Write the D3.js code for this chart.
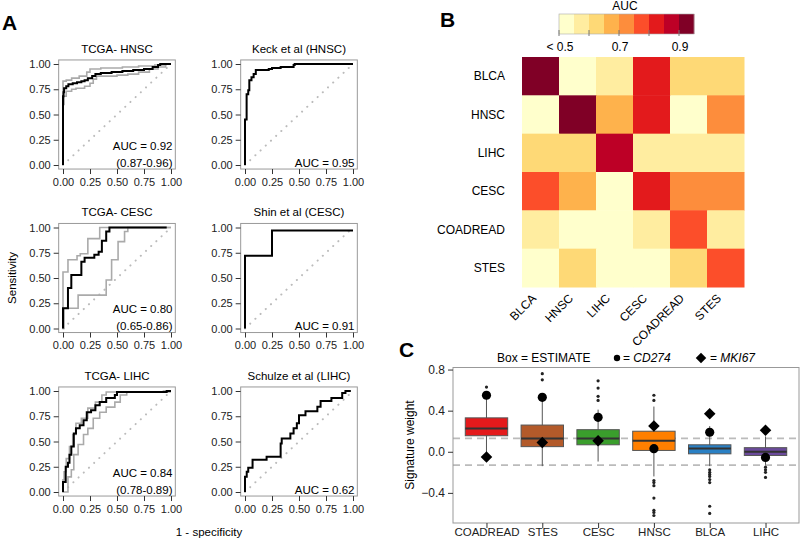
<!DOCTYPE html>
<html>
<head>
<meta charset="utf-8">
<script src="https://d3js.org/d3.v7.min.js"></script>
<style>
  body { margin: 0; background: #fff; }
  svg { font-family: 'Liberation Sans', Arial, sans-serif; }
</style>
</head>
<body>
<div id="chart"></div>
<script>
// ---------- panel A data: ROC steps as [1 - specificity, sensitivity]
let tcgaHnscRoc = [[0, 0], [0, 0.68], [0.005, 0.72], [0.01, 0.76], [0.03, 0.78], [0.05, 0.8], [0.09, 0.81], [0.13, 0.82], [0.17, 0.83], [0.2, 0.84], [0.23, 0.86], [0.27, 0.88], [0.3, 0.9], [0.35, 0.91], [0.45, 0.92], [0.55, 0.93], [0.65, 0.94], [0.75, 0.95], [0.83, 0.97], [0.88, 0.99], [0.9, 1], [1, 1]]
let tcgaHnscHigh = [[0, 0], [0, 0.83], [0.03, 0.84], [0.08, 0.86], [0.15, 0.88], [0.22, 0.92], [0.25, 0.95], [0.35, 0.96], [0.55, 0.97], [0.7, 0.98], [0.85, 0.99], [0.95, 1], [1, 1]]
let tcgaHnscLow = [[0, 0], [0, 0.6], [0.01, 0.68], [0.03, 0.73], [0.08, 0.75], [0.12, 0.76], [0.2, 0.78], [0.25, 0.81], [0.28, 0.85], [0.31, 0.88], [0.5, 0.89], [0.6, 0.9], [0.7, 0.92], [0.8, 0.95], [0.88, 0.97], [0.95, 1], [1, 1]]

let keckRoc = [[0, 0], [0, 0.45], [0.015, 0.7], [0.03, 0.74], [0.04, 0.84], [0.06, 0.87], [0.08, 0.9], [0.1, 0.94], [0.22, 0.95], [0.25, 0.96], [0.33, 0.97], [0.45, 0.99], [0.46, 1], [1, 1]]

let tcgaCescRoc = [[0, 0], [0, 0.2], [0.046, 0.4], [0.077, 0.53], [0.17, 0.66], [0.2, 0.7], [0.29, 0.73], [0.33, 0.76], [0.36, 0.87], [0.4, 0.96], [0.43, 1], [0.96, 1]]
let tcgaCescHigh = [[0, 0], [0, 0.56], [0.046, 0.68], [0.13, 0.72], [0.16, 0.74], [0.23, 0.89], [0.34, 1], [1, 1]]
let tcgaCescLow = [[0, 0], [0.01, 0.2], [0.14, 0.33], [0.4, 0.48], [0.45, 0.68], [0.51, 0.86], [0.57, 0.96], [0.6, 1], [1, 1]]

let shinRoc = [[0, 0], [0, 0.72], [0.25, 0.97], [1, 0.97]]

let tcgaLihcRoc = [[0, 0], [0, 0.1], [0.025, 0.25], [0.046, 0.29], [0.06, 0.37], [0.077, 0.45], [0.1, 0.58], [0.12, 0.63], [0.155, 0.66], [0.19, 0.71], [0.22, 0.79], [0.26, 0.81], [0.3, 0.86], [0.34, 0.89], [0.4, 0.93], [0.48, 0.96], [0.5, 0.99], [0.96, 1], [1, 1]]
let tcgaLihcHigh = [[0, 0], [0, 0.12], [0.01, 0.2], [0.03, 0.33], [0.06, 0.45], [0.09, 0.57], [0.12, 0.68], [0.17, 0.73], [0.23, 0.83], [0.3, 0.89], [0.36, 0.96], [0.4, 0.99], [0.93, 1], [1, 1]]
let tcgaLihcLow = [[0, 0], [0.046, 0.15], [0.077, 0.22], [0.1, 0.37], [0.14, 0.47], [0.19, 0.57], [0.23, 0.63], [0.28, 0.73], [0.34, 0.79], [0.4, 0.84], [0.48, 0.89], [0.53, 0.96], [0.59, 0.99], [1, 0.99]]

let schulzeRoc = [[0, 0], [0, 0.15], [0.016, 0.2], [0.03, 0.24], [0.07, 0.32], [0.2, 0.35], [0.33, 0.48], [0.34, 0.53], [0.42, 0.58], [0.45, 0.63], [0.48, 0.68], [0.5, 0.76], [0.56, 0.8], [0.67, 0.845], [0.7, 0.9], [0.8, 0.93], [0.9, 0.98], [0.93, 1], [0.98, 1]]

let rocTitles = ['TCGA- HNSC', 'Keck et al (HNSC)', 'TCGA- CESC', 'Shin et al (CESC)', 'TCGA- LIHC', 'Schulze et al (LIHC)']
let rocAuc = ['AUC = 0.92', 'AUC = 0.95', 'AUC = 0.80', 'AUC = 0.91', 'AUC = 0.84', 'AUC = 0.62']
let rocAucCi = ['(0.87-0.96)', null, '(0.65-0.86)', null, '(0.78-0.89)', null]
let rocTicks = [0, 0.25, 0.5, 0.75, 1]

// ---------- panel B data
let heatCancers = ['BLCA', 'HNSC', 'LIHC', 'CESC', 'COADREAD', 'STES']
// rows = heatCancers, columns = heatCancers
let heatAuc = [
  [0.93, 0.48, 0.57, 0.82, 0.62, 0.62],
  [0.48, 0.93, 0.67, 0.82, 0.48, 0.72],
  [0.62, 0.62, 0.87, 0.57, 0.57, 0.57],
  [0.77, 0.67, 0.48, 0.82, 0.72, 0.72],
  [0.57, 0.48, 0.48, 0.57, 0.77, 0.57],
  [0.48, 0.62, 0.48, 0.48, 0.62, 0.77]
]
let aucBreaks = [0.55, 0.6, 0.65, 0.7, 0.75, 0.8, 0.85, 0.9]
let aucLegendTicks = [0.5, 0.6, 0.7, 0.8, 0.9]
let aucLegendLabels = { 0.5: '< 0.5', 0.7: '0.7', 0.9: '0.9' }

// ---------- panel C data
let boxCancers = ['COADREAD', 'STES', 'CESC', 'HNSC', 'BLCA', 'LIHC']
let boxColors = ['#e41a1c', '#b35a2a', '#3a9e2c', '#ff7f00', '#2a80c4', '#6b4a9c']
let boxQ1 = [0.156, 0.05, 0.068, 0.013, -0.02, -0.036]
let boxMedian = [0.227, 0.13, 0.13, 0.107, 0.032, 0.0]
let boxQ3 = [0.33, 0.26, 0.215, 0.2, 0.068, 0.04]
let whiskerLow = [-0.02, -0.14, -0.095, -0.24, -0.14, -0.127]
let whiskerHigh = [0.57, 0.55, 0.41, 0.44, 0.25, 0.15]
let boxOutliers = [
  [0.63],
  [0.7, 0.76],
  [0.5, 0.54, 0.62, 0.69],
  [0.5, 0.55, -0.28, -0.3, -0.33, -0.45, -0.57, -0.59, -0.62],
  [-0.176, -0.2, -0.22, -0.24, -0.27, -0.3, -0.53, -0.6],
  [-0.15, -0.175, -0.2, -0.25]
]
let cd274Weight = [0.55, 0.53, 0.335, 0.03, 0.19, -0.055]
let mki67Weight = [-0.05, 0.09, 0.107, 0.25, 0.37, 0.21]
let refLines = [0.13, -0.13]
let weightTicks = [0.8, 0.4, 0, -0.4]

let svg = d3
  .select('#chart')
  .append('svg')
  .attr('width', 800)
  .attr('height', 540)

// panel letters
let letters = [['A', 2, 30], ['B', 440, 27], ['C', 399, 357]]
svg
  .selectAll('.panel-letter')
  .data(letters)
  .enter()
  .append('text')
  .attr('class', 'panel-letter')
  .attr('x', d => d[1])
  .attr('y', d => d[2])
  .attr('font-size', 21)
  .attr('font-weight', 'bold')
  .text(d => d[0])

// ================= panel A =================
let rocPanels = [
  { roc: tcgaHnscRoc, ci: [tcgaHnscHigh, tcgaHnscLow] },
  { roc: keckRoc, ci: [] },
  { roc: tcgaCescRoc, ci: [tcgaCescHigh, tcgaCescLow] },
  { roc: shinRoc, ci: [] },
  { roc: tcgaLihcRoc, ci: [tcgaLihcHigh, tcgaLihcLow] },
  { roc: schulzeRoc, ci: [] }
]
let colLeft = [63, 245]
let rowTop = [64, 227.5, 391]
let rocW = 108
let rocH = 101

rocPanels.forEach((p, i) => {
  let left = colLeft[i % 2]
  let top = rowTop[Math.floor(i / 2)]
  let x = d3.scaleLinear().domain([0, 1]).range([left, left + rocW])
  let y = d3.scaleLinear().domain([0, 1]).range([top + rocH, top])
  let g = svg.append('g')

  g.append('line')
    .attr('x1', x(0)).attr('y1', y(0))
    .attr('x2', x(1)).attr('y2', y(1))
    .attr('stroke', '#bbb')
    .attr('stroke-width', 2)
    .attr('stroke-linecap', 'round')
    .attr('stroke-dasharray', '0.1,7')

  let line = d3
    .line()
    .x(d => x(d[0]))
    .y(d => y(d[1]))
    .curve(d3.curveStepAfter)

  p.ci.forEach(c => {
    g.append('path')
      .attr('d', line(c))
      .attr('fill', 'none')
      .attr('stroke', '#aaa')
      .attr('stroke-width', 1.6)
  })
  g.append('path')
    .attr('d', line(p.roc))
    .attr('fill', 'none')
    .attr('stroke', '#000')
    .attr('stroke-width', 2)

  g.append('rect')
    .attr('x', x(-0.04))
    .attr('y', y(1.04))
    .attr('width', x(1.04) - x(-0.04))
    .attr('height', y(-0.04) - y(1.04))
    .attr('fill', 'none')
    .attr('stroke', '#999')

  let yAxis = d3.axisLeft(y).tickValues(rocTicks).tickFormat(d3.format('.2f')).tickSize(5).tickPadding(3)
  let xAxis = d3.axisBottom(x).tickValues(rocTicks).tickFormat(d3.format('.2f')).tickSize(5).tickPadding(4)
  g.append('g')
    .attr('class', 'axis')
    .attr('transform', 'translate(' + x(-0.04) + ',0)')
    .call(yAxis)
  g.append('g')
    .attr('class', 'axis')
    .attr('transform', 'translate(0,' + y(-0.04) + ')')
    .call(xAxis)

  g.append('text')
    .attr('x', (x(0) + x(1)) / 2)
    .attr('y', y(1.04) - 7)
    .attr('text-anchor', 'middle')
    .attr('font-size', 11.5)
    .text(rocTitles[i])

  let aucY = rocAucCi[i] ? y(0) - 15.5 : y(0) + 1.5
  g.append('text')
    .attr('x', x(1) + 1.5)
    .attr('y', aucY)
    .attr('text-anchor', 'end')
    .attr('font-size', 11.5)
    .text(rocAuc[i])
  if (rocAucCi[i]) {
    g.append('text')
      .attr('x', x(1) + 1.5)
      .attr('y', y(0) + 1.5)
      .attr('text-anchor', 'end')
      .attr('font-size', 11.5)
      .text(rocAucCi[i])
  }
})

svg.selectAll('.axis path.domain').remove()
svg.selectAll('.axis line').attr('stroke', '#333')
svg.selectAll('.axis text').attr('font-size', 11).attr('fill', '#222').attr('font-family', "'Liberation Sans', Arial, sans-serif")

svg.append('text')
  .attr('transform', 'translate(16,278) rotate(-90)')
  .attr('text-anchor', 'middle')
  .attr('font-size', 11.5)
  .text('Sensitivity')

svg.append('text')
  .attr('x', 209)
  .attr('y', 536)
  .attr('text-anchor', 'middle')
  .attr('font-size', 11.5)
  .text('1 - specificity')

// ================= panel B =================
let colorScale = d3.scaleThreshold().domain(aucBreaks).range(d3.schemeYlOrRd[9])

let heatX = d3.scaleBand().domain(heatCancers).range([522, 744])
let heatY = d3.scaleBand().domain(heatCancers).range([57, 287])

let cells = []
heatAuc.forEach((row, r) => {
  row.forEach((v, c) => {
    cells.push({ row: heatCancers[r], col: heatCancers[c], auc: v })
  })
})

svg
  .selectAll('.heat-cell')
  .data(cells)
  .enter()
  .append('rect')
  .attr('class', 'heat-cell')
  .attr('x', d => heatX(d.col))
  .attr('y', d => heatY(d.row))
  .attr('width', heatX.bandwidth() + 0.5)
  .attr('height', heatY.bandwidth() + 0.5)
  .attr('fill', d => colorScale(d.auc))

svg
  .selectAll('.heat-row-label')
  .data(heatCancers)
  .enter()
  .append('text')
  .attr('class', 'heat-row-label')
  .attr('x', 505)
  .attr('y', d => heatY(d) + heatY.bandwidth() / 2)
  .attr('dy', '0.35em')
  .attr('text-anchor', 'end')
  .attr('font-size', 12)
  .text(d => d)

svg
  .selectAll('.heat-col-label')
  .data(heatCancers)
  .enter()
  .append('text')
  .attr('class', 'heat-col-label')
  .attr('transform', d => 'translate(' + (heatX(d) + heatX.bandwidth() / 2 - 3.5) + ',299) rotate(-45)')
  .attr('text-anchor', 'end')
  .attr('font-size', 12)
  .text(d => d)

// colour legend
let legendX = d3.scaleLinear().domain([0.5, 0.95]).range([559, 694])
let legendBlocks = d3.range(9).map(i => 0.5 + 0.05 * i)
svg
  .selectAll('.legend-block')
  .data(legendBlocks)
  .enter()
  .append('rect')
  .attr('class', 'legend-block')
  .attr('x', d => legendX(d))
  .attr('y', 14)
  .attr('width', legendX(0.55) - legendX(0.5) + 0.3)
  .attr('height', 20)
  .attr('fill', d => colorScale(d + 0.025))
svg.append('rect')
  .attr('x', legendX(0.5))
  .attr('y', 14)
  .attr('width', legendX(0.95) - legendX(0.5))
  .attr('height', 20)
  .attr('fill', 'none')
  .attr('stroke', '#aaa')
  .attr('stroke-width', 0.6)
svg
  .selectAll('.legend-tick')
  .data(aucLegendTicks)
  .enter()
  .append('line')
  .attr('class', 'legend-tick')
  .attr('x1', d => legendX(d))
  .attr('x2', d => legendX(d))
  .attr('y1', 30)
  .attr('y2', 36)
  .attr('stroke', '#777')
svg
  .selectAll('.legend-label')
  .data(aucLegendTicks.filter(d => aucLegendLabels[d]))
  .enter()
  .append('text')
  .attr('class', 'legend-label')
  .attr('x', d => legendX(d) + 1)
  .attr('y', 51)
  .attr('text-anchor', 'middle')
  .attr('font-size', 12)
  .text(d => aucLegendLabels[d])
svg.append('text')
  .attr('x', 625)
  .attr('y', 10)
  .attr('text-anchor', 'middle')
  .attr('font-size', 12)
  .text('AUC')

// ================= panel C =================
let boxLeft = 453
let boxRight = 799
let boxTop = 367.5
let boxBottom = 523

let xBox = d3.scalePoint().domain(boxCancers).range([boxLeft, boxRight]).padding(0.6)
let yBox = d3.scaleLinear().domain([-0.693, 0.82]).range([boxBottom, boxTop])
let boxW = xBox.step() * 0.76

let boxes = boxCancers.map((c, i) => ({
  cancer: c,
  color: boxColors[i],
  q1: boxQ1[i],
  median: boxMedian[i],
  q3: boxQ3[i],
  lo: whiskerLow[i],
  hi: whiskerHigh[i],
  outliers: boxOutliers[i],
  cd274: cd274Weight[i],
  mki67: mki67Weight[i]
}))

svg
  .selectAll('.ref-line')
  .data(refLines)
  .enter()
  .append('line')
  .attr('class', 'ref-line')
  .attr('x1', boxLeft)
  .attr('x2', boxRight)
  .attr('y1', d => yBox(d))
  .attr('y2', d => yBox(d))
  .attr('stroke', '#bbb')
  .attr('stroke-width', 1.8)
  .attr('stroke-dasharray', '7,5')

let bg = svg
  .selectAll('.box')
  .data(boxes)
  .enter()
  .append('g')
  .attr('class', 'box')

bg.append('line')
  .attr('x1', d => xBox(d.cancer))
  .attr('x2', d => xBox(d.cancer))
  .attr('y1', d => yBox(d.lo))
  .attr('y2', d => yBox(d.hi))
  .attr('stroke', '#555')
  .attr('stroke-width', 1)

bg.append('rect')
  .attr('x', d => xBox(d.cancer) - boxW / 2)
  .attr('y', d => yBox(d.q3))
  .attr('width', boxW)
  .attr('height', d => yBox(d.q1) - yBox(d.q3))
  .attr('fill', d => d.color)
  .attr('stroke', '#555')
  .attr('stroke-width', 1)

bg.append('line')
  .attr('x1', d => xBox(d.cancer) - boxW / 2)
  .attr('x2', d => xBox(d.cancer) + boxW / 2)
  .attr('y1', d => yBox(d.median))
  .attr('y2', d => yBox(d.median))
  .attr('stroke', '#333')
  .attr('stroke-width', 2)

bg.selectAll('.outlier')
  .data(d => d.outliers.map(v => ({ cancer: d.cancer, v: v })))
  .enter()
  .append('circle')
  .attr('class', 'outlier')
  .attr('cx', d => xBox(d.cancer))
  .attr('cy', d => yBox(d.v))
  .attr('r', 1.6)
  .attr('fill', '#222')

bg.append('circle')
  .attr('cx', d => xBox(d.cancer))
  .attr('cy', d => yBox(d.cd274))
  .attr('r', 4.6)
  .attr('fill', '#000')

let diamond = d3.symbol().type(d3.symbolDiamond2).size(85)
bg.append('path')
  .attr('d', diamond)
  .attr('transform', d => 'translate(' + xBox(d.cancer) + ',' + yBox(d.mki67) + ')')
  .attr('fill', '#000')

svg.append('rect')
  .attr('x', boxLeft)
  .attr('y', boxTop)
  .attr('width', boxRight - boxLeft)
  .attr('height', boxBottom - boxTop)
  .attr('fill', 'none')
  .attr('stroke', '#999')

let yBoxAxis = d3.axisLeft(yBox).tickValues(weightTicks).tickFormat(d3.format('.1f')).tickSize(5).tickPadding(3)
svg.append('g')
  .attr('class', 'axis-c')
  .attr('transform', 'translate(' + boxLeft + ',0)')
  .call(yBoxAxis)
let xBoxAxis = d3.axisBottom(xBox).tickSize(5)
svg.append('g')
  .attr('class', 'axis-c x-axis-c')
  .attr('transform', 'translate(0,' + boxBottom + ')')
  .call(xBoxAxis)
svg.selectAll('.axis-c path.domain').remove()
svg.selectAll('.axis-c line').attr('stroke', '#333')
svg.selectAll('.axis-c text').attr('font-size', 12).attr('fill', '#222').attr('font-family', "'Liberation Sans', Arial, sans-serif")
// keep the category labels inside the 540px canvas
svg.selectAll('.x-axis-c text').attr('y', 5).attr('dy', '0.7em').attr('font-size', 11.5)

svg.append('text')
  .attr('transform', 'translate(414,445) rotate(-90)')
  .attr('text-anchor', 'middle')
  .attr('font-size', 12)
  .text('Signature weight')

// legend row
svg.append('text')
  .attr('x', 497)
  .attr('y', 362)
  .attr('font-size', 12)
  .text('Box = ESTIMATE')
svg.append('circle')
  .attr('cx', 617)
  .attr('cy', 358)
  .attr('r', 3.2)
  .attr('fill', '#000')
let cdText = svg.append('text').attr('x', 623).attr('y', 362).attr('font-size', 12)
cdText.append('tspan').text('= ')
cdText.append('tspan').attr('font-style', 'italic').text('CD274')
svg.append('path')
  .attr('d', d3.symbol().type(d3.symbolDiamond2).size(70))
  .attr('transform', 'translate(701,358)')
  .attr('fill', '#000')
let mkText = svg.append('text').attr('x', 710).attr('y', 362).attr('font-size', 12)
mkText.append('tspan').text('= ')
mkText.append('tspan').attr('font-style', 'italic').text('MKI67')
</script>
</body>
</html>
